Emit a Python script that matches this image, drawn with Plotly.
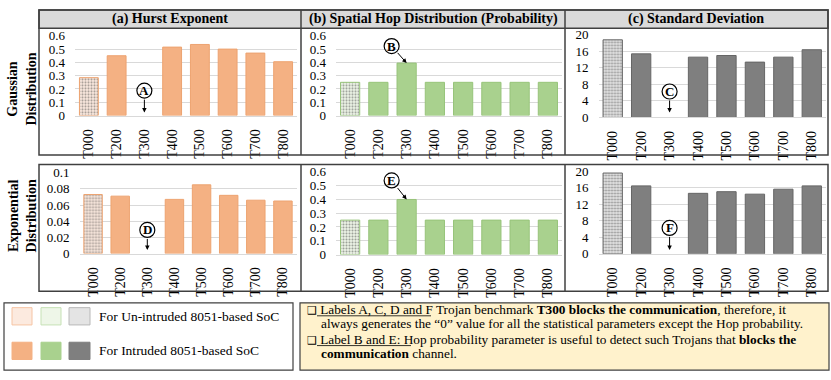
import plotly.graph_objects as go

W, H = 831, 380
SERIF = "Liberation Serif"

# ── data ─────────────────────────────────────────────
BENCH = ["T000", "T200", "T300", "T400", "T500", "T600", "T700", "T800"]

hurst_gauss = [0.285, 0.45, 0, 0.515, 0.535, 0.50, 0.47, 0.405]
hop_gauss   = [0.25, 0.25, 0.395, 0.25, 0.25, 0.25, 0.25, 0.25]
std_gauss   = [18.8, 15.4, 0, 14.6, 15.0, 13.4, 14.6, 16.4]
hurst_exp   = [0.073, 0.071, 0, 0.067, 0.085, 0.072, 0.066, 0.065]
hop_exp     = [0.25, 0.25, 0.40, 0.25, 0.25, 0.25, 0.25, 0.25]
std_exp     = [19.5, 16.4, 0, 14.6, 15.0, 14.4, 15.6, 16.4]

PANEL_TITLES = ["(a) Hurst Exponent",
                "(b) Spatial Hop Distribution (Probability)",
                "(c) Standard Deviation"]
ROW_TITLES = ["Gaussian<br>Distribution", "Exponential<br>Distribution"]
LEGEND_TEXT = ["For Un-intruded 8051-based SoC", "For Intruded 8051-based SoC"]

# ── styles ───────────────────────────────────────────
ORANGE = dict(fill="#F4B183", line="#EDA370", light="#FCEADF", dot="#F6C4A4")
GREEN  = dict(fill="#A9D18E", line="#97C47A", light="#EEF6E8", dot="#C6E1B5")
GRAY   = dict(fill="#7F7F7F", line="#666666", light="#E4E4E4", dot="#B8B8B8")
FRAME  = "#404040"
GRID   = "#D9D9D9"

def px(x):  return x / W
def py(y):  return 1 - y / H

# values, y range, dtick, palette, x domain (px), y domain (px top, bottom)
panels = [
    (hurst_gauss, [0, 0.6], 0.1,  ORANGE, (75, 297),  (30, 113)),
    (hop_gauss,   [0, 0.6], 0.1,  GREEN,  (336, 562), (30, 113)),
    (std_gauss,   [0, 20],  4,    GRAY,   (598.5, 826), (29, 115)),
    (hurst_exp,   [0, 0.1], 0.02, ORANGE, (79.5, 296.5), (172.5, 256.7)),
    (hop_exp,     [0, 0.6], 0.1,  GREEN,  (336, 562), (171.7, 257.7)),
    (std_exp,     [0, 20],  4,    GRAY,   (598.5, 826), (170.7, 257)),
]

fig = go.Figure()
layout_axes = {}
TICKF = dict(family=SERIF, size=13, color="#000000")

for i, (vals, yr, dt, pal, xd, yd) in enumerate(panels, start=1):
    n = len(BENCH)
    fig.add_trace(go.Bar(
        x=BENCH, y=vals, xaxis=f"x{i}", yaxis=f"y{i}",
        marker=dict(
            color=[pal["light"]] + [pal["fill"]] * (n - 1),
            line=dict(color=pal["line"], width=[1 if v else 0 for v in vals]),
            pattern=dict(shape=["."] + [""] * (n - 1), fgcolor=pal["dot"],
                         size=3, solidity=0.4, fillmode="overlay"),
        ),
        showlegend=False, hoverinfo="x+y",
    ))
    sfx = "" if i == 1 else str(i)
    layout_axes[f"xaxis{sfx}"] = dict(
        domain=[px(xd[0]), px(xd[1])], anchor=f"y{i}", type="category",
        tickangle=-90, tickfont=dict(TICKF, size=14), showgrid=False, showline=True,
        linecolor=GRID, linewidth=1, ticks="", ticklabelstandoff=7, fixedrange=True,
    )
    layout_axes[f"yaxis{sfx}"] = dict(
        domain=[py(yd[1]), py(yd[0])], anchor=f"x{i}", range=yr, dtick=dt,
        gridcolor=GRID, gridwidth=1, zeroline=False, showline=False,
        tickfont=TICKF, ticklabelstandoff=9, fixedrange=True,
    )

# ── frames ───────────────────────────────────────────
shapes = []
def rect(x0, y0, x1, y1, fill="rgba(0,0,0,0)", line=FRAME, width=1.5, layer="above"):
    shapes.append(dict(type="rect", xref="paper", yref="paper",
                       x0=px(x0), x1=px(x1), y0=py(y1), y1=py(y0),
                       fillcolor=fill, line=dict(color=line, width=width), layer=layer))
def hline(x0, x1, y, color=FRAME, width=1.5):
    shapes.append(dict(type="line", xref="paper", yref="paper",
                       x0=px(x0), x1=px(x1), y0=py(y), y1=py(y),
                       line=dict(color=color, width=width)))
def vline(x, y0, y1):
    shapes.append(dict(type="line", xref="paper", yref="paper",
                       x0=px(x), x1=px(x), y0=py(y0), y1=py(y1),
                       line=dict(color=FRAME, width=1.5)))

rect(39, 3, 828, 22, fill="#DADADA", layer="below")
rect(39, 3, 828, 154)
rect(39, 164, 828, 296)
for x in (301, 565):
    vline(x, 3, 154)
    vline(x, 164, 296)

# legend box
rect(4, 308, 293, 378, fill="#FFFFFF", width=1.2)
sw_x = [(12, 32), (41, 61), (69, 90)]
for pal, (x0, x1) in zip([ORANGE, GREEN, GRAY], sw_x):
    rect(x0, 313, x1, 331, fill=pal["light"], line=pal["dot"], width=1)
    rect(x0, 349, x1, 367, fill=pal["fill"], line=pal["fill"], width=1)

# note box
rect(300, 308, 829, 378, fill="#FFF2CC", width=1.2)
# underlines under the two label phrases
hline(317, 431, 321.5, color="#000", width=0.8)
hline(317, 411, 352.5, color="#000", width=0.8)

# ── annotations ──────────────────────────────────────
ann = []
centers = [170, 433, 696]
for t, cx in zip(PANEL_TITLES, centers):
    ann.append(dict(text=f"<b>{t}</b>", x=px(cx), y=py(12.5), xref="paper", yref="paper",
                    xanchor="center", yanchor="middle", showarrow=False,
                    font=dict(family=SERIF, size=14, color="#000")))
for t, cy in zip(ROW_TITLES, [86, 218]):
    ann.append(dict(text=f"<b>{t}</b>", x=px(22), y=py(cy), xref="paper", yref="paper",
                    xanchor="center", yanchor="middle", textangle=-90, showarrow=False,
                    font=dict(family=SERIF, size=14, color="#000")))

# circled labels: panel, letter, arrow tip value, ax, ay
marks = [(1, "A", 0.022, 0, -22), (2, "B", 0.395, -15, -17), (3, "C", 1.2, 0, -21),
         (4, "D", 0.0045, 0, -20), (5, "E", 0.40, -15, -19), (6, "F", 0.95, 0, -22)]
for p, letter, tip, ax, ay in marks:
    ann.append(dict(text=f"<b>{letter}</b>", x="T300", y=tip, xref=f"x{p}", yref=f"y{p}",
                    ax=ax, ay=ay, showarrow=True, arrowhead=2, arrowsize=0.9,
                    arrowwidth=1, arrowcolor="#000", standoff=0, startstandoff=0,
                    font=dict(family=SERIF, size=13, color="#000")))
    shapes.append(dict(type="circle", xref=f"x{p}", yref=f"y{p}",
                       xsizemode="pixel", ysizemode="pixel", xanchor="T300", yanchor=tip,
                       x0=ax - 7.5, x1=ax + 7.5, y0=-ay - 7.5, y1=-ay + 7.5,
                       line=dict(color="#000", width=1.2), fillcolor="rgba(0,0,0,0)"))

for t, cy in zip(LEGEND_TEXT, [322, 358]):
    ann.append(dict(text=t, x=px(97), y=py(cy), xref="paper", yref="paper",
                    xanchor="left", yanchor="middle", showarrow=False,
                    font=dict(family=SERIF, size=13.5, color="#000")))

BOX = "<span style='font-family:DejaVu Sans;font-size:11px'>❑</span> "
note_lines = [
    (305, 315, BOX + "Labels A, C, D and F Trojan benchmark "
               "<b>T300 blocks the communication</b>, therefore, it"),
    (319, 330, "always generates the “0” value for all the statistical parameters "
               "except the Hop probability."),
    (305, 346, BOX + "Label B and E: Hop probability parameter is useful to "
               "detect such Trojans that <b>blocks the</b>"),
    (319, 361, "<b>communication</b> channel."),
]
for x, y, t in note_lines:
    ann.append(dict(text=t, x=px(x), y=py(y), xref="paper", yref="paper",
                    xanchor="left", yanchor="middle", showarrow=False,
                    font=dict(family=SERIF, size=13.3, color="#000")))

fig.update_layout(
    width=W, height=H, margin=dict(l=0, r=0, t=0, b=0),
    paper_bgcolor="#FFFFFF", plot_bgcolor="#FFFFFF",
    bargap=0.32, showlegend=False,
    shapes=shapes, annotations=ann,
    font=dict(family=SERIF, color="#000"),
    **layout_axes,
)

fig.write_html("out.html", config=dict(displayModeBar=False),
               post_script="document.body.style.margin='0';")
